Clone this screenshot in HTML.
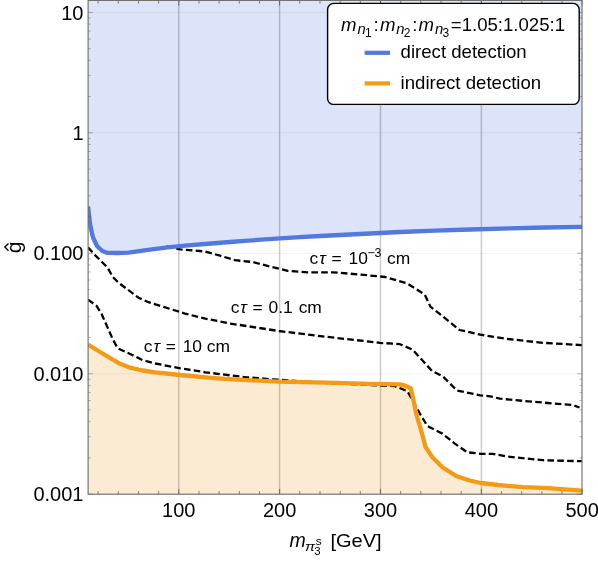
<!DOCTYPE html>
<html><head><meta charset="utf-8"><title>plot</title>
<style>html,body{margin:0;padding:0;background:#fff;}body{width:598px;height:561px;overflow:hidden;font-family:"Liberation Sans",sans-serif;}</style>
</head><body>
<svg width="598" height="561" viewBox="0 0 598 561" style="display:block;will-change:transform">
<rect width="598" height="561" fill="#fff"/>
<path d="M88.0,206.5 L90.2,225.0 L92.8,237.0 L97.0,246.0 L102.3,251.0 L107.6,252.9 L117.6,253.0 L128.5,252.6 L142.7,250.7 L151.9,249.3 L167.8,247.4 L185.0,245.6 L205.0,244.0 L230.0,242.0 L245.0,240.8 L280.0,238.4 L300.0,237.1 L320.0,236.0 L360.0,234.0 L400.0,232.0 L435.0,230.6 L470.0,229.5 L510.0,228.4 L545.0,227.5 L582.0,226.8 L582.0,0.4 L88.1,0.4 Z" fill="#DDE3F8"/>
<path d="M88.0,344.6 L105.1,355.0 L120.1,363.8 L130.2,367.7 L142.7,370.5 L155.2,372.4 L180.3,375.0 L205.4,377.3 L225.0,378.8 L246.8,380.1 L278.9,381.6 L327.0,382.6 L370.0,383.9 L400.0,384.4 L405.0,385.7 L410.7,388.2 L412.9,397.4 L416.2,413.6 L422.4,434.9 L425.4,446.8 L432.4,457.3 L442.4,467.3 L456.1,476.0 L469.8,480.5 L481.0,483.0 L498.2,485.0 L523.2,487.2 L548.3,488.2 L560.9,489.2 L582.0,490.7 L582.0,494.2 L88.1,494.2 Z" fill="#FCEBD3"/>
<line x1="178.8" y1="0.4" x2="178.8" y2="494.2" stroke="#000" stroke-opacity="0.2" stroke-width="1.5"/>
<line x1="279.6" y1="0.4" x2="279.6" y2="494.2" stroke="#000" stroke-opacity="0.2" stroke-width="1.5"/>
<line x1="380.5" y1="0.4" x2="380.5" y2="494.2" stroke="#000" stroke-opacity="0.2" stroke-width="1.5"/>
<line x1="481.4" y1="0.4" x2="481.4" y2="494.2" stroke="#000" stroke-opacity="0.2" stroke-width="1.5"/>
<line x1="88.1" y1="12.4" x2="582.0" y2="12.4" stroke="#000" stroke-opacity="0.055" stroke-width="1"/>
<line x1="88.1" y1="132.8" x2="582.0" y2="132.8" stroke="#000" stroke-opacity="0.055" stroke-width="1"/>
<line x1="88.1" y1="253.3" x2="582.0" y2="253.3" stroke="#000" stroke-opacity="0.055" stroke-width="1"/>
<line x1="88.1" y1="373.8" x2="582.0" y2="373.8" stroke="#000" stroke-opacity="0.055" stroke-width="1"/>
<clipPath id="pc"><rect x="88.1" y="0.4" width="493.9" height="493.8"/></clipPath>
<g clip-path="url(#pc)">
<path d="M166.5,246.4 L180.3,249.4 L205.4,251.5 L220.0,255.7 L235.0,260.2 L252.6,262.0 L270.2,266.5 L287.7,270.8 L307.8,272.3 L332.9,272.3 L360.0,274.5 L385.1,277.0 L406.8,283.3 L416.0,289.0 L424.8,294.6 L430.4,306.6 L443.3,316.8 L459.5,330.0 L480.3,334.6 L507.0,338.9 L542.7,342.8 L582.0,345.1" fill="none" stroke="#000" stroke-width="2.3" stroke-dasharray="6.6 3.25" stroke-linejoin="round"/>
<path d="M88.0,247.3 L95.0,255.1 L101.7,261.7 L107.6,267.6 L112.6,276.8 L118.4,282.6 L128.5,290.2 L138.5,297.7 L148.5,302.2 L163.6,306.9 L185.0,313.6 L205.4,318.7 L220.0,321.5 L230.0,323.5 L278.9,331.0 L327.0,336.9 L380.0,342.8 L400.0,344.2 L412.5,349.6 L423.2,361.3 L432.1,371.0 L442.8,376.3 L457.1,390.6 L480.3,395.4 L490.0,396.3 L500.0,398.7 L528.2,401.3 L558.3,403.9 L572.3,404.9 L579.5,407.5" fill="none" stroke="#000" stroke-width="2.3" stroke-dasharray="6.6 3.25" stroke-linejoin="round"/>
<path d="M88.0,299.6 L96.5,305.8 L101.5,313.7 L107.6,327.6 L112.6,338.9 L117.6,348.2 L130.2,354.0 L142.7,360.2 L155.2,363.5 L180.3,368.3 L205.4,372.3 L230.0,375.3 L246.8,377.3 L270.8,379.2 L327.0,383.0 L370.0,385.0 L395.0,386.2 L407.4,391.2 L412.4,399.9 L419.9,413.6 L427.4,426.1 L442.4,433.6 L454.8,443.6 L467.3,452.3 L481.0,453.8 L492.8,453.8 L507.0,456.6 L542.7,460.2 L582.0,461.2" fill="none" stroke="#000" stroke-width="2.3" stroke-dasharray="6.6 3.25" stroke-linejoin="round"/>
<path d="M88.0,206.5 L90.2,225.0 L92.8,237.0 L97.0,246.0 L102.3,251.0 L107.6,252.9 L117.6,253.0 L128.5,252.6 L142.7,250.7 L151.9,249.3 L167.8,247.4 L185.0,245.6 L205.0,244.0 L230.0,242.0 L245.0,240.8 L280.0,238.4 L300.0,237.1 L320.0,236.0 L360.0,234.0 L400.0,232.0 L435.0,230.6 L470.0,229.5 L510.0,228.4 L545.0,227.5 L582.0,226.8" fill="none" stroke="#5179E0" stroke-width="4.3" stroke-linejoin="round"/>
<path d="M88.0,344.6 L105.1,355.0 L120.1,363.8 L130.2,367.7 L142.7,370.5 L155.2,372.4 L180.3,375.0 L205.4,377.3 L225.0,378.8 L246.8,380.1 L278.9,381.6 L327.0,382.6 L370.0,383.9 L400.0,384.4 L405.0,385.7 L410.7,388.2 L412.9,397.4 L416.2,413.6 L422.4,434.9 L425.4,446.8 L432.4,457.3 L442.4,467.3 L456.1,476.0 L469.8,480.5 L481.0,483.0 L498.2,485.0 L523.2,487.2 L548.3,488.2 L560.9,489.2 L582.0,490.7" fill="none" stroke="#F59A14" stroke-width="4.3" stroke-linejoin="round"/>
</g>
<path d="M98.1,494.2 v-3.2 M98.1,0.4 v3.2 M118.3,494.2 v-3.2 M118.3,0.4 v3.2 M138.5,494.2 v-3.2 M138.5,0.4 v3.2 M158.6,494.2 v-3.2 M158.6,0.4 v3.2 M178.8,494.2 v-5.2 M178.8,0.4 v5.2 M199.0,494.2 v-3.2 M199.0,0.4 v3.2 M219.1,494.2 v-3.2 M219.1,0.4 v3.2 M239.3,494.2 v-3.2 M239.3,0.4 v3.2 M259.5,494.2 v-3.2 M259.5,0.4 v3.2 M279.6,494.2 v-5.2 M279.6,0.4 v5.2 M299.8,494.2 v-3.2 M299.8,0.4 v3.2 M320.0,494.2 v-3.2 M320.0,0.4 v3.2 M340.2,494.2 v-3.2 M340.2,0.4 v3.2 M360.3,494.2 v-3.2 M360.3,0.4 v3.2 M380.5,494.2 v-5.2 M380.5,0.4 v5.2 M400.7,494.2 v-3.2 M400.7,0.4 v3.2 M420.8,494.2 v-3.2 M420.8,0.4 v3.2 M441.0,494.2 v-3.2 M441.0,0.4 v3.2 M461.2,494.2 v-3.2 M461.2,0.4 v3.2 M481.4,494.2 v-5.2 M481.4,0.4 v5.2 M501.5,494.2 v-3.2 M501.5,0.4 v3.2 M521.7,494.2 v-3.2 M521.7,0.4 v3.2 M541.9,494.2 v-3.2 M541.9,0.4 v3.2 M562.0,494.2 v-3.2 M562.0,0.4 v3.2 M582.2,494.2 v-5.2 M582.2,0.4 v5.2" stroke="#000" stroke-opacity="0.45" stroke-width="1" fill="none"/>
<path d="M88.1,494.2 h4.8 M582.0,494.2 h-4.8 M88.1,457.9 h2.6 M582.0,457.9 h-2.6 M88.1,436.7 h2.6 M582.0,436.7 h-2.6 M88.1,421.7 h2.6 M582.0,421.7 h-2.6 M88.1,410.0 h2.6 M582.0,410.0 h-2.6 M88.1,400.5 h2.6 M582.0,400.5 h-2.6 M88.1,392.4 h2.6 M582.0,392.4 h-2.6 M88.1,385.4 h2.6 M582.0,385.4 h-2.6 M88.1,379.3 h2.6 M582.0,379.3 h-2.6 M88.1,373.8 h4.8 M582.0,373.8 h-4.8 M88.1,337.5 h2.6 M582.0,337.5 h-2.6 M88.1,316.3 h2.6 M582.0,316.3 h-2.6 M88.1,301.2 h2.6 M582.0,301.2 h-2.6 M88.1,289.6 h2.6 M582.0,289.6 h-2.6 M88.1,280.0 h2.6 M582.0,280.0 h-2.6 M88.1,272.0 h2.6 M582.0,272.0 h-2.6 M88.1,265.0 h2.6 M582.0,265.0 h-2.6 M88.1,258.8 h2.6 M582.0,258.8 h-2.6 M88.1,253.3 h4.8 M582.0,253.3 h-4.8 M88.1,217.0 h2.6 M582.0,217.0 h-2.6 M88.1,195.8 h2.6 M582.0,195.8 h-2.6 M88.1,180.8 h2.6 M582.0,180.8 h-2.6 M88.1,169.1 h2.6 M582.0,169.1 h-2.6 M88.1,159.6 h2.6 M582.0,159.6 h-2.6 M88.1,151.5 h2.6 M582.0,151.5 h-2.6 M88.1,144.5 h2.6 M582.0,144.5 h-2.6 M88.1,138.4 h2.6 M582.0,138.4 h-2.6 M88.1,132.8 h4.8 M582.0,132.8 h-4.8 M88.1,96.6 h2.6 M582.0,96.6 h-2.6 M88.1,75.4 h2.6 M582.0,75.4 h-2.6 M88.1,60.3 h2.6 M582.0,60.3 h-2.6 M88.1,48.7 h2.6 M582.0,48.7 h-2.6 M88.1,39.1 h2.6 M582.0,39.1 h-2.6 M88.1,31.1 h2.6 M582.0,31.1 h-2.6 M88.1,24.1 h2.6 M582.0,24.1 h-2.6 M88.1,17.9 h2.6 M582.0,17.9 h-2.6 M88.1,12.4 h4.8 M582.0,12.4 h-4.8" stroke="#000" stroke-opacity="0.28" stroke-width="1" fill="none"/>
<rect x="88.1" y="0.4" width="493.9" height="493.8" fill="none" stroke="#6a6a6a" stroke-width="1.1"/>
<g font-family="Liberation Sans, sans-serif" font-size="20.0" fill="#000">
<text x="83.5" y="19.5" text-anchor="end">10</text>
<text x="83.5" y="139.9" text-anchor="end">1</text>
<text x="83.5" y="260.4" text-anchor="end">0.100</text>
<text x="83.5" y="380.9" text-anchor="end">0.010</text>
<text x="83.5" y="501.3" text-anchor="end">0.001</text>
<text x="178.8" y="516.6" text-anchor="middle">100</text>
<text x="279.6" y="516.6" text-anchor="middle">200</text>
<text x="380.5" y="516.6" text-anchor="middle">300</text>
<text x="481.4" y="516.6" text-anchor="middle">400</text>
<text x="582.2" y="516.6" text-anchor="middle">500</text>
</g>
<g font-family="Liberation Sans, sans-serif" font-size="19.5" fill="#000">
<text transform="translate(20.5,247.3) rotate(-90) scale(1.09,1)" text-anchor="middle">g</text>
<path d="M8.5,243.4 L4.8,247.05 L8.5,250.7" fill="none" stroke="#000" stroke-width="1.4"/>
<text x="289.4" y="547.0" font-style="italic">m</text>
<text transform="translate(305.0,550.9) scale(1.12,1)" font-size="13.5" font-style="italic">π</text>
<text x="315.7" y="545.4" font-size="11.8">s</text>
<text x="314.3" y="554.7" font-size="11.4">3</text>
<text transform="translate(330.4,547.2) scale(1.045,1)" font-size="19.2">[GeV]</text>
</g>
<g font-family="Liberation Sans, sans-serif" font-size="17.4" fill="#000">
<text x="143.86" y="351.6">c</text><text x="153.56" y="351.6" font-style="italic">τ</text><text x="165.85" y="351.6">=</text><text x="182.67" y="351.6">10</text><text x="206.86" y="351.6">cm</text>
<text x="230.66" y="313.2">c</text><text x="240.36" y="313.2" font-style="italic">τ</text><text x="252.55" y="313.2">=</text><text x="268.62" y="313.2">0.1</text><text x="298.66" y="313.2">cm</text>
<text x="309.46" y="263.9">c</text><text x="319.16" y="263.9" font-style="italic">τ</text><text x="331.55" y="263.9">=</text><text x="348.57" y="263.9">10</text><text x="367.39" y="257.2" font-size="12.4">−3</text><text x="386.96" y="263.9">cm</text>
</g>
<rect x="327.6" y="3.4" width="251.6" height="101.0" rx="6" ry="6" fill="#fff" stroke="#000" stroke-width="1.4"/>
<line x1="364.6" y1="52.8" x2="390.1" y2="52.8" stroke="#5179E0" stroke-width="4.2"/>
<line x1="364.6" y1="83.4" x2="390.1" y2="83.4" stroke="#F59A14" stroke-width="4.2"/>
<g font-family="Liberation Sans, sans-serif" font-size="18.6" fill="#000">
<text x="400.6" y="58.1">direct detection</text>
<text x="400.6" y="88.8">indirect detection</text>
<text x="341.08" y="30.8" font-style="italic">m</text><text x="357.45" y="33.5" font-size="14.8" font-style="italic">n</text><text x="364.90" y="36.7" font-size="12.0">1</text>
<text x="373.5" y="30.8">:</text>
<text x="379.88" y="30.8" font-style="italic">m</text><text x="396.25" y="33.5" font-size="14.8" font-style="italic">n</text><text x="403.70" y="36.7" font-size="12.0">2</text>
<text x="412.3" y="30.8">:</text>
<text x="418.58" y="30.8" font-style="italic">m</text><text x="434.95" y="33.5" font-size="14.8" font-style="italic">n</text><text x="442.40" y="36.7" font-size="12.0">3</text>
<text x="450.8" y="30.8">=1.05:1.025:1</text>
</g>
</svg>
</body></html>
